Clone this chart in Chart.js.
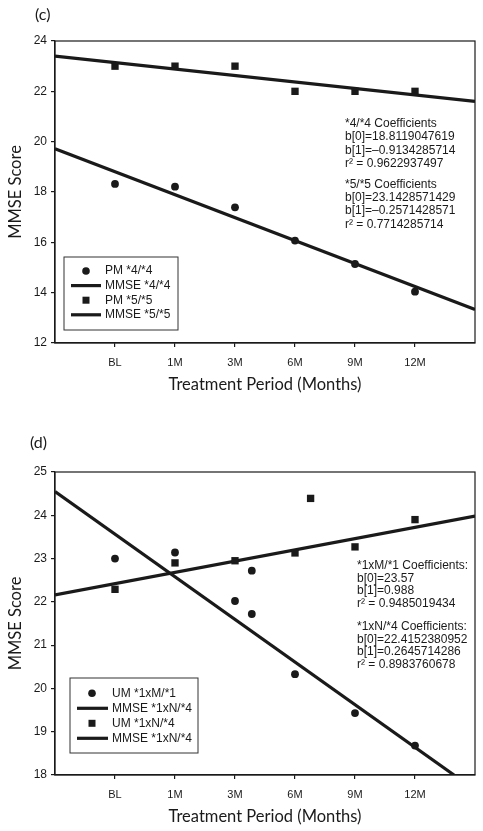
<!DOCTYPE html>
<html>
<head>
<meta charset="utf-8">
<script src="https://cdn.jsdelivr.net/npm/chart.js@4.4.1/dist/chart.umd.min.js"></script>
<style>
  html, body { margin: 0; padding: 0; background: #fff; }
  canvas { display: block; }
</style>
</head>
<body>
<canvas id="chartC" width="483" height="400"></canvas>
<canvas id="chartD" width="483" height="431"></canvas>
<script>
// tick labels of the x axis (placed at x = 1..6)
const periods = ['BL', '1M', '3M', '6M', '9M', '12M'];

// panel (c)
const cPm44X = [1, 2, 3, 4, 5, 6];
const cPm44Y = [18.32, 18.21, 17.39, 16.07, 15.14, 14.04];
const cPm55X = [1, 2, 3, 4, 5, 6];
const cPm55Y = [23, 23, 23, 22, 22, 22];
const cFit44X = [0, 7];
const cFit44Y = [19.72, 13.33];
const cFit55X = [0, 7];
const cFit55Y = [23.4, 21.6];
const cLegend = ['PM *4/*4', 'MMSE *4/*4', 'PM *5/*5', 'MMSE *5/*5'];
const cNotes = [
  ['*4/*4 Coefficients', 'b[0]=18.8119047619', 'b[1]=\u20130.9134285714', 'r\u00b2 = 0.9622937497'],
  ['*5/*5 Coefficients', 'b[0]=23.1428571429', 'b[1]=\u20130.2571428571', 'r\u00b2 = 0.7714285714']
];

// panel (d)
const dUmMX = [1, 2, 3, 3.28, 3.28, 4, 5, 6];
const dUmMY = [23.0, 23.14, 22.02, 22.72, 21.72, 20.33, 19.43, 18.68];
const dUmNX = [1, 2, 3, 4, 4.26, 5, 6];
const dUmNY = [22.29, 22.9, 22.95, 23.13, 24.39, 23.27, 23.9];
const dFitMX = [0, 6.65];
const dFitMY = [24.55, 18];
const dFitNX = [0, 7];
const dFitNY = [22.16, 23.98];
const dLegend = ['UM *1xM/*1', 'MMSE *1xN/*4', 'UM *1xN/*4', 'MMSE *1xN/*4'];
const dNotes = [
  ['*1xM/*1 Coefficients:', 'b[0]=23.57', 'b[1]=0.988', 'r\u00b2 = 0.9485019434'],
  ['*1xN/*4 Coefficients:', 'b[0]=22.4152380952', 'b[1]=0.2645714286', 'r\u00b2 = 0.8983760678']
];

const INK = '#1a1a1a';
const SANS = '"Liberation Sans", Arial, sans-serif';
const TITLE = 'Lato, "Open Sans", sans-serif';

const pts = (xs, ys) => xs.map((x, i) => ({ x: x, y: ys[i] }));

// frame, panel letter, coefficient notes and boxed legend
const extras = {
  id: 'extras',
  afterDraw(chart, args, o) {
    const { ctx, chartArea: a } = chart;
    ctx.save();
    ctx.strokeStyle = INK;
    ctx.lineWidth = 1.2;
    ctx.strokeRect(a.left, a.top, a.right - a.left, a.bottom - a.top);

    ctx.fillStyle = INK;
    ctx.textBaseline = 'middle';
    ctx.font = '16px ' + TITLE;
    ctx.fillText(o.tag, o.tagX, o.tagY);

    ctx.font = '12px ' + SANS;
    o.notes.forEach((block, b) => {
      block.forEach((line, i) => {
        ctx.fillText(line, o.noteX, o.noteY[b] + i * o.noteGap);
      });
    });

    // legend box, rows taken from the dataset labels
    const L = o.legend;
    ctx.lineWidth = 1;
    ctx.strokeStyle = '#333';
    ctx.strokeRect(L.x, L.y, L.w, L.h);
    const ds = chart.data.datasets;
    const rows = [ds[0], ds[2], ds[1], ds[3]];
    rows.forEach((d, i) => {
      const y = L.rowY + i * L.gap;
      ctx.fillStyle = INK;
      if (d.pointStyle === 'circle') {
        ctx.beginPath();
        ctx.arc(L.symX, y, 3.8, 0, Math.PI * 2);
        ctx.fill();
      } else if (d.pointStyle === 'rect') {
        ctx.fillRect(L.symX - 3.5, y - 3.5, 7, 7);
      } else {
        ctx.strokeStyle = INK;
        ctx.lineWidth = 3.2;
        ctx.beginPath();
        ctx.moveTo(L.lineX0, y);
        ctx.lineTo(L.lineX1, y);
        ctx.stroke();
      }
      ctx.font = '12px ' + SANS;
      ctx.fillText(d.label, L.textX, y);
    });
    ctx.restore();
  }
};

function buildChart(id, o) {
  const pointStyle = (style, r) => ({
    pointStyle: style, pointRadius: r, pointHoverRadius: r,
    backgroundColor: INK, borderColor: INK, borderWidth: 0
  });
  const fitStyle = { showLine: true, pointRadius: 0, borderColor: INK, borderWidth: 3.2, fill: false };

  return new Chart(document.getElementById(id), {
    type: 'scatter',
    data: {
      datasets: [
        Object.assign({ label: o.names[0], data: o.set1 }, pointStyle('circle', 3.9)),
        Object.assign({ label: o.names[2], data: o.set2 }, pointStyle('rect', 5.2)),
        Object.assign({ label: o.names[1], data: o.fit1 }, fitStyle),
        Object.assign({ label: o.names[3], data: o.fit2 }, fitStyle)
      ]
    },
    options: {
      responsive: false,
      animation: false,
      layout: { padding: { left: 0, top: o.top, right: 8, bottom: 0 } },
      plugins: {
        legend: { display: false },
        tooltip: { enabled: false },
        extras: o.extras
      },
      scales: {
        x: {
          type: 'linear', min: 0, max: 7,
          afterBuildTicks: s => { s.ticks = periods.map((p, i) => ({ value: i + 1 })); },
          afterFit: s => { s.height = o.xHeight; },
          ticks: {
            callback: v => periods[v - 1],
            font: { family: SANS, size: 11 }, color: INK,
            padding: 9, maxRotation: 0, autoSkip: false
          },
          grid: { drawOnChartArea: false, drawTicks: true, tickLength: 4, color: INK, lineWidth: 1.2 },
          border: { display: true, color: INK, width: 1.2 },
          title: {
            display: true, text: 'Treatment Period (Months)',
            font: { family: TITLE, size: 16.5 }, color: INK,
            padding: { top: 0, bottom: o.xTitlePad }
          }
        },
        y: {
          min: o.yMin, max: o.yMax,
          afterFit: s => { s.width = 55; },
          ticks: { stepSize: o.yStep, font: { family: SANS, size: 12 }, color: INK, padding: 4 },
          grid: { drawOnChartArea: false, drawTicks: true, tickLength: 4, color: INK, lineWidth: 1.2 },
          border: { display: true, color: INK, width: 1.2 },
          title: {
            display: true, text: 'MMSE Score',
            font: { family: TITLE, size: 16.5 }, color: INK,
            padding: { top: 6, bottom: 0 }
          }
        }
      }
    },
    plugins: [extras]
  });
}

buildChart('chartC', {
  names: cLegend,
  set1: pts(cPm44X, cPm44Y),
  set2: pts(cPm55X, cPm55Y),
  fit1: pts(cFit44X, cFit44Y),
  fit2: pts(cFit55X, cFit55Y),
  yMin: 12, yMax: 24, yStep: 2,
  top: 41, xHeight: 57, xTitlePad: 5,
  extras: {
    tag: '(c)', tagX: 35, tagY: 15,
    notes: cNotes, noteX: 345, noteY: [123.5, 184.3], noteGap: 13.4,
    legend: { x: 64, y: 257, w: 114, h: 73, rowY: 271, gap: 14.6, symX: 86, lineX0: 71, lineX1: 101, textX: 105 }
  }
});

buildChart('chartD', {
  names: dLegend,
  set1: pts(dUmMX, dUmMY),
  set2: pts(dUmNX, dUmNY),
  fit1: pts(dFitMX, dFitMY),
  fit2: pts(dFitNX, dFitNY),
  yMin: 18, yMax: 25, yStep: 1,
  top: 72, xHeight: 56, xTitlePad: 4,
  extras: {
    tag: '(d)', tagX: 30, tagY: 43,
    notes: dNotes, noteX: 357, noteY: [165.7, 226.7], noteGap: 12.6,
    legend: { x: 70, y: 278, w: 128, h: 75, rowY: 293.3, gap: 15, symX: 92, lineX0: 77, lineX1: 108, textX: 112 }
  }
});
</script>
</body>
</html>
